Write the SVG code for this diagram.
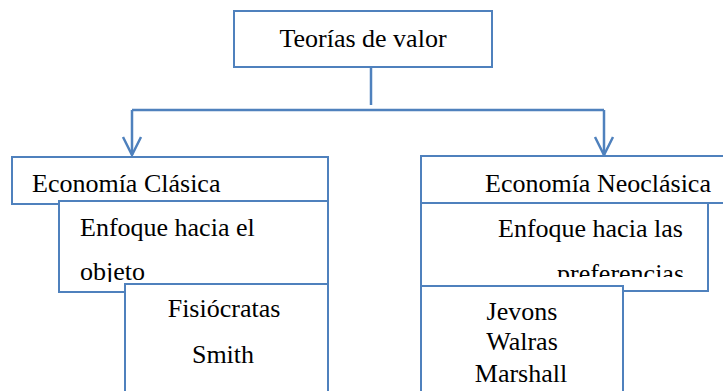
<svg xmlns="http://www.w3.org/2000/svg" width="723" height="391" viewBox="0 0 723 391">
<style>
.box{fill:#ffffff;stroke:#4F81BD;stroke-width:2}
.t{font-family:"Liberation Serif","Times New Roman",serif;font-size:26px;fill:#000000}
.c{fill:none;stroke:#4F81BD;stroke-width:2.5}
.m{text-anchor:middle}
</style>
<defs>
<clipPath id="clipL"><rect x="60" y="200" width="268" height="82"/></clipPath>
<clipPath id="clipR"><rect x="422" y="200" width="286" height="77"/></clipPath>
</defs>
<rect width="723" height="391" fill="#ffffff"/>
<g id="connectors">
<path class="c" d="M371 67 V105"/>
<path class="c" d="M132 110 H604"/>
<path class="c" d="M132 110 V155"/>
<path class="c" d="M604 110 V155"/>
<polyline class="c" points="123,137 132,155 141,137"/>
<polyline class="c" points="595,137 604,155 613,137"/>
</g>
<g id="teorias">
<rect class="box" x="234" y="11" width="258" height="56"/>
<text class="t m" x="363" y="47">Teorías de valor</text>
</g>
<g id="economia-clasica">
<rect class="box" x="12" y="157" width="316" height="47"/>
<text class="t" x="32" y="192">Economía Clásica</text>
</g>
<g id="enfoque-objeto">
<rect class="box" x="59" y="201" width="269" height="91"/>
<text class="t" x="80" y="236">Enfoque hacia el</text>
<text class="t" x="80" y="280" clip-path="url(#clipL)">objeto</text>
</g>
<g id="fisiocratas">
<rect class="box" x="125" y="284" width="203" height="120"/>
<text class="t m" x="224" y="317">Fisiócratas</text>
<text class="t m" x="223" y="363">Smith</text>
</g>
<g id="economia-neoclasica">
<rect class="box" x="421" y="156" width="310" height="47"/>
<text class="t" x="485" y="192">Economía Neoclásica</text>
</g>
<g id="enfoque-preferencias">
<rect class="box" x="421" y="203" width="287" height="88"/>
<text class="t" x="498" y="237">Enfoque hacia las</text>
<text class="t" x="557" y="282" clip-path="url(#clipR)">preferencias</text>
</g>
<g id="autores-neoclasicos">
<rect class="box" x="421" y="286" width="202" height="120"/>
<text class="t m" x="522" y="320">Jevons</text>
<text class="t m" x="522" y="350">Walras</text>
<text class="t m" x="521" y="382">Marshall</text>
</g>
</svg>
